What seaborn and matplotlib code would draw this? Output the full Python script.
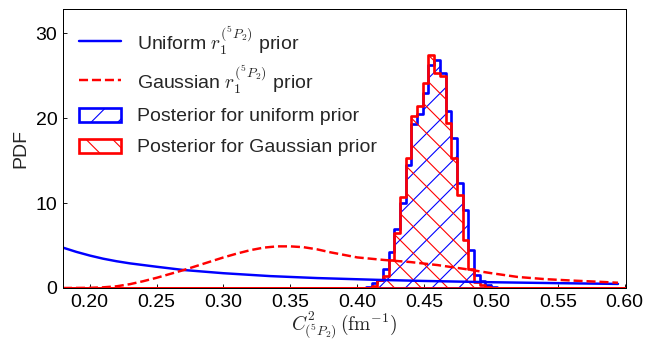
import numpy as np
import pandas as pd
import matplotlib
matplotlib.use("Agg")
import matplotlib.pyplot as plt
from matplotlib.legend_handler import HandlerPolyCollection
import seaborn as sns

# ---- data ----
uniform_x = [0.18, 0.19, 0.20, 0.21, 0.22, 0.23, 0.25, 0.27, 0.30, 0.335, 0.37, 0.415, 0.45, 0.50, 0.55, 0.595]
uniform_y = [4.75, 4.25, 3.82, 3.45, 3.15, 2.90, 2.50, 2.12, 1.74, 1.40, 1.17, 0.96, 0.83, 0.68, 0.57, 0.48]

gauss_x = [0.18, 0.20, 0.21, 0.22, 0.23, 0.24, 0.25, 0.26, 0.27, 0.28, 0.29, 0.30, 0.31, 0.32,
           0.33, 0.34, 0.35, 0.36, 0.37, 0.38, 0.39, 0.40, 0.42, 0.44, 0.46, 0.48, 0.50, 0.52,
           0.54, 0.56, 0.58, 0.595]
gauss_y = [0.0, 0.02, 0.08, 0.20, 0.45, 0.80, 1.20, 1.65, 2.10, 2.60, 3.10, 3.60, 4.05, 4.45,
           4.75, 4.90, 4.90, 4.80, 4.55, 4.20, 3.90, 3.60, 3.30, 3.05, 2.70, 2.25, 1.75, 1.30,
           1.05, 0.88, 0.74, 0.62]

bin_edges = [0.4066, 0.4108, 0.4151, 0.4193, 0.4236, 0.4278, 0.4321, 0.4363, 0.4406, 0.4448,
             0.4491, 0.4533, 0.4576, 0.4618, 0.4661, 0.4703, 0.4746, 0.4788, 0.4831, 0.4873,
             0.4916, 0.4958, 0.5001, 0.5043]
post_uniform = [0.1, 0.6, 0.95, 2.2, 4.2, 7.0, 10.0, 14.5, 19.3, 20.5, 23.0, 26.3, 26.8, 25.3,
                20.8, 17.6, 12.3, 9.2, 4.5, 1.5, 0.8, 0.3, 0.1]
post_gauss = [0.05, 0.2, 0.94, 1.45, 3.3, 6.5, 10.75, 15.3, 20.2, 21.4, 24.1, 27.4, 25.3, 25.0,
              19.4, 15.3, 10.95, 5.65, 2.2, 0.7, 0.3, 0.1, 0.0]

x_ticks = [0.20, 0.25, 0.30, 0.35, 0.40, 0.45, 0.50, 0.55, 0.60]
y_ticks = [0, 10, 20, 30]
x_range = (0.18, 0.601)
y_range = (0, 32.8)

# ---- style ----
sns.set_style("ticks")
plt.rcParams["font.family"] = ["Liberation Sans", "DejaVu Sans"]
plt.rcParams["mathtext.fontset"] = "cm"
plt.rcParams["hatch.linewidth"] = 1.0
FS = 17.5

DPI = 80
fig = plt.figure(figsize=(659 / DPI, 343 / DPI), dpi=DPI)
ax = fig.add_axes([63 / 659, 1 - 288 / 343, (626 - 63) / 659, (288 - 9.3) / 343])

# full-range bins (zero outside the sampled region) so outlines run along y=0
edges_full = [x_range[0]] + bin_edges + [0.60]
centers = [(a + b) / 2 for a, b in zip(edges_full[:-1], edges_full[1:])]
w_uni = [0.0] + post_uniform + [0.0]
w_gau = [0.0] + post_gauss + [0.0]

sns.lineplot(x=uniform_x, y=uniform_y, ax=ax, color="#0000ff", lw=2.2,
             label=r"Uniform $r_1^{(^5P_2)}$ prior", sort=False)
sns.lineplot(x=gauss_x, y=gauss_y, ax=ax, color="#ff0000", lw=2.2, linestyle="--",
             label=r"Gaussian $r_1^{(^5P_2)}$ prior", sort=False)

hist_handles = []
for w, col, hat, lab in [(w_uni, "#0000ff", "/", "Posterior for uniform prior"),
                         (w_gau, "#ff0000", "\\", "Posterior for Gaussian prior")]:
    n_before = len(ax.collections)
    sns.histplot(x=centers, weights=w, bins=edges_full, ax=ax, element="step", fill=True,
                 color=col, hatch=hat, linewidth=2.4)
    coll = ax.collections[n_before]
    coll.set_facecolor("none")
    coll.set_edgecolor(col)
    coll.set_linewidth(2.4)
    coll.set_label(lab)
    hist_handles.append(coll)

ax.set_xlim(*x_range)
ax.set_ylim(*y_range)
ax.set_xticks(x_ticks)
ax.set_xticklabels([f"{t:.2f}" for t in x_ticks])
ax.set_yticks(y_ticks)
ax.tick_params(direction="in", length=4, width=0.8, labelsize=FS, colors="black", pad=5)
for s in ax.spines.values():
    s.set_color("black")
    s.set_linewidth(0.9)

ax.set_ylabel("PDF", fontsize=FS, labelpad=6)
ax.set_xlabel(r"$C^2_{(^5P_2)}\,(\mathrm{fm}^{-1})$", fontsize=17.5, labelpad=-1.5)


class SmallPatch(HandlerPolyCollection):
    def create_artists(self, legend, orig_handle, xdescent, ydescent, width, height,
                       fontsize, trans):
        arts = super().create_artists(legend, orig_handle, xdescent, ydescent, width,
                                      height, fontsize, trans)
        p = arts[0]
        h = 0.72 * fontsize
        p.set_y(-ydescent + (height - h) / 2)
        p.set_height(h)
        return arts


line_handles = ax.get_lines()[:2]
handles = list(line_handles) + hist_handles
labels = [h.get_label() for h in handles]
hm = {hist_handles[0]: SmallPatch(), hist_handles[1]: SmallPatch()}
ax.legend(handles, labels, loc="upper left", frameon=False, handler_map=hm,
          fontsize=FS, handlelength=2.2, handletextpad=0.8, labelspacing=0.32,
          handleheight=1.6, borderaxespad=0.5, borderpad=0.3)

fig.savefig("out.png", dpi=DPI)
